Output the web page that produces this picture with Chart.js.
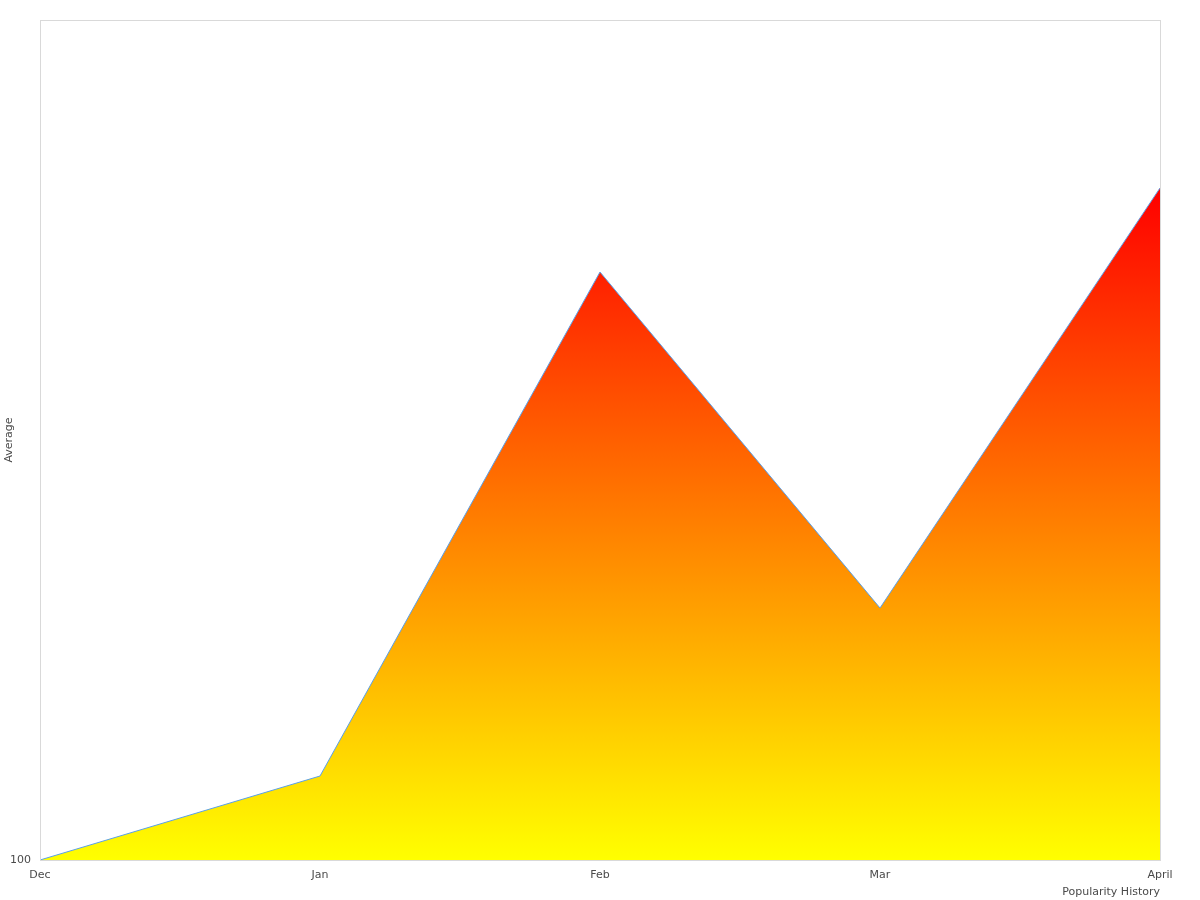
<!DOCTYPE html>
<html>
<head>
<meta charset="utf-8">
<script src="https://cdn.jsdelivr.net/npm/chart.js@4/dist/chart.umd.min.js"></script>
<style>
  html, body { margin: 0; padding: 0; background: #fff; }
  #wrap { width: 1200px; height: 900px; }
</style>
</head>
<body>
<div id="wrap"><canvas id="popChart" width="1200" height="900"></canvas></div>
<script>
// chart values
const months = ['Dec', 'Jan', 'Feb', 'Mar', 'April'];
const averages = [100, 110, 170, 130, 180];
const yMin = 100;
const yMax = 200;

// draws the light grey frame round the plot area
const frame = {
  id: 'frame',
  afterDraw(chart) {
    const { ctx, chartArea: a } = chart;
    ctx.save();
    ctx.strokeStyle = '#d9d9d9';
    ctx.lineWidth = 1;
    ctx.strokeRect(a.left + 0.5, a.top + 0.5, a.right - a.left, a.bottom - a.top);
    ctx.restore();
  }
};

// yellow at the bottom of the axis, red at the highest point
function fillGradient(context) {
  const chart = context.chart;
  const y = chart.scales.y;
  if (!chart.chartArea || !y) return null;
  const top = y.getPixelForValue(Math.max(...averages));
  const bottom = y.getPixelForValue(yMin);
  if (!isFinite(top) || !isFinite(bottom)) return null;
  const g = chart.ctx.createLinearGradient(0, bottom, 0, top);
  g.addColorStop(0, 'rgb(255,255,0)');
  g.addColorStop(1, 'rgb(255,0,0)');
  return g;
}

Chart.defaults.font.family = '"DejaVu Sans", sans-serif';
Chart.defaults.font.size = 11;
Chart.defaults.color = '#4a4a4a';

new Chart(document.getElementById('popChart').getContext('2d'), {
  type: 'line',
  data: {
    labels: months,
    datasets: [{
      label: 'Average',
      data: averages,
      fill: 'origin',
      backgroundColor: fillGradient,
      borderColor: 'rgb(90,160,232)',
      borderWidth: 1,
      pointRadius: 0,
      tension: 0
    }]
  },
  options: {
    responsive: false,
    animation: false,
    layout: { padding: { top: 20, right: 40, left: 0, bottom: 0 } },
    plugins: {
      legend: { display: false },
      tooltip: { enabled: false }
    },
    scales: {
      x: {
        grid: { display: false, drawTicks: false },
        border: { color: '#d9d9d9' },
        ticks: { padding: 9, maxRotation: 0 },
        title: { display: true, text: 'Popularity History', align: 'end', padding: { top: 2, bottom: 1 } },
        afterFit: s => { s.height = 40; }
      },
      y: {
        min: yMin,
        max: yMax,
        grid: { display: false, drawTicks: false },
        border: { color: '#d9d9d9' },
        ticks: {
          stepSize: 100,
          padding: 9,
          callback: v => (v === yMin ? String(v) : '')
        },
        title: { display: true, text: 'Average', padding: { top: 3, bottom: 0 } },
        afterFit: s => { s.width = 40; }
      }
    }
  },
  plugins: [frame]
});
</script>
</body>
</html>
